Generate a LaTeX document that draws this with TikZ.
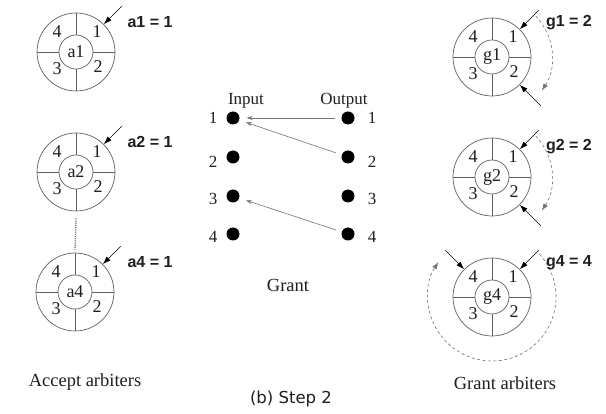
\documentclass[tikz,border=0pt]{standalone}
\usepackage{fontspec}
\setmainfont{Liberation Serif}
\newfontfamily\tagfont{Liberation Sans}
\newfontfamily\capfont{DejaVu Sans}
\usetikzlibrary{calc,arrows.meta}

\definecolor{ringgray}{gray}{0.38}
\definecolor{linegray}{gray}{0.45}
\definecolor{inkgray}{gray}{0.12}

\tikzset{
  ring/.style={circle, draw=ringgray, line width=0.7pt, minimum size=78pt, inner sep=0pt},
  hub/.style={circle, draw=ringgray, line width=0.7pt, minimum size=34pt, inner sep=0pt,
    text=inkgray, font=\fontsize{18}{18}\selectfont},
  spoke/.style={draw=ringgray, line width=0.7pt},
  slot/.style={text=inkgray, font=\fontsize{18}{18}\selectfont, inner sep=0pt},
  pointer/.style={line width=0.6pt, -{Latex[length=8pt,width=5.5pt]}},
  sweep/.style={draw=linegray, line width=0.6pt, dash pattern=on 3pt off 2.5pt,
    -{Latex[length=7pt,width=5pt]}},
  tag/.style={text=inkgray, font=\tagfont\bfseries\fontsize{16}{16}\selectfont, inner sep=0pt},
  dot/.style={circle, fill=black, minimum size=13pt, inner sep=0pt},
  port/.style={text=inkgray, font=\fontsize{17}{17}\selectfont, inner sep=0pt},
  grantline/.style={draw=linegray, line width=0.6pt, -{Stealth[length=6pt,width=4pt]},
    shorten >=7pt, shorten <=6pt},
  caption/.style={text=inkgray, font=\fontsize{18.5}{19}\selectfont, inner sep=0pt}
}

% one arbiter: outer ring, hub with its name, four spokes and four slot numbers
\newcommand\arbiterring[4]{%
  \node[ring] (#1) at (#3,#4) {};
  \node[hub] (#1hub) at (#1.center) {#2};
  \draw[spoke] (#1hub.north) -- (#1.north);
  \draw[spoke] (#1hub.south) -- (#1.south);
  \draw[spoke] (#1hub.east) -- (#1.east);
  \draw[spoke] (#1hub.west) -- (#1.west);
  \node[slot] (#1s4) at ($(#1.center)+(-19,-20)$) {4};
  \node[slot] (#1s1) at ($(#1.center)+(21,-20)$) {1};
  \node[slot] (#1s3) at ($(#1.center)+(-19,17)$) {3};
  \node[slot] (#1s2) at ($(#1.center)+(22,15)$) {2};
}

\begin{document}
\begin{tikzpicture}[x=1pt, y=-1pt]
\useasboundingbox[fill=white] (0,0) rectangle (606,414);

% accept arbiters
\arbiterring{a1}{a1}{76}{52}
\arbiterring{a2}{a2}{76}{172}
\arbiterring{a4}{a4}{75}{292}
\draw[ringgray, line width=1.3pt, dash pattern=on 1pt off 1.2pt] (a2.south) ++(0,7) coordinate (gapTop)
  -- ($(a4.north)+(0,-3)$) coordinate (gapBot);

\foreach \n in {a1,a2,a4} {
  \coordinate (\n tail) at ($(\n.center)!1.64!(\n.45)$);
  \draw[pointer] (\n tail) -- (\n.45);
}
\node[tag] (a1tag) at (150,22) {a1 = 1};
\node[tag] (a2tag) at (150,142) {a2 = 1};
\node[tag] (a4tag) at (150,262) {a4 = 1};
\node[caption] (acc) at (85,382) {Accept arbiters};

% grant arbiters
\arbiterring{g1}{g1}{492}{57}
\arbiterring{g2}{g2}{492}{177}
\arbiterring{g4}{g4}{492}{297}

\foreach \n in {g1,g2,g4} {
  \coordinate (\n tail) at ($(\n.center)!1.68!(\n.45)$);
  \draw[pointer] (\n tail) -- (\n.45);
}
\foreach \n in {g1,g2} {
  \coordinate (\n back) at ($(\n.center)!1.75!(\n.-45)$);
  \draw[pointer] (\n back) -- (\n.-45);
  \draw[sweep] (\n.center) ++(-43:60) coordinate (\n arcA)
    arc[start angle=-43, end angle=34, radius=60];
}
\coordinate (g4back) at ($(g4.center)!1.68!(g4.135)$);
\draw[pointer] (g4back) -- (g4.135);
\draw[sweep] (g4.center) ++(-42:64) coordinate (g4arcA)
  arc[start angle=-42, end angle=213, radius=64];

\node[tag] (g1tag) at (569,23) {g1 = 2};
\node[tag] (g2tag) at (569,147) {g2 = 2};
\node[tag] (g4tag) at (569,263) {g4 = 4};
\node[caption] (gra) at (505,383) {Grant arbiters};

% grant step: inputs and outputs
\node[port] (inHead) at (246,101) {Input};
\node[port] (outHead) at (344,101) {Output};
\foreach \k/\y/\ny in {1/118/118, 2/157/162, 3/196/199, 4/234/237} {
  \node[dot] (i\k) at (233,\y) {};
  \node[dot] (o\k) at (348,\y) {};
  \node[port] (il\k) at (213,\ny) {\k};
  \node[port] (ol\k) at (372,\ny) {\k};
}
\draw[grantline] (o1) -- (i1);
\draw[grantline] (o2) -- (i1);
\draw[grantline] (o4) -- (i3);
\node[caption] (grantcap) at (288,285) {Grant};

\node[caption, font=\capfont\fontsize{16.5}{17}\selectfont] (stepcap) at (291,399) {(b) Step 2};
\end{tikzpicture}
\end{document}
